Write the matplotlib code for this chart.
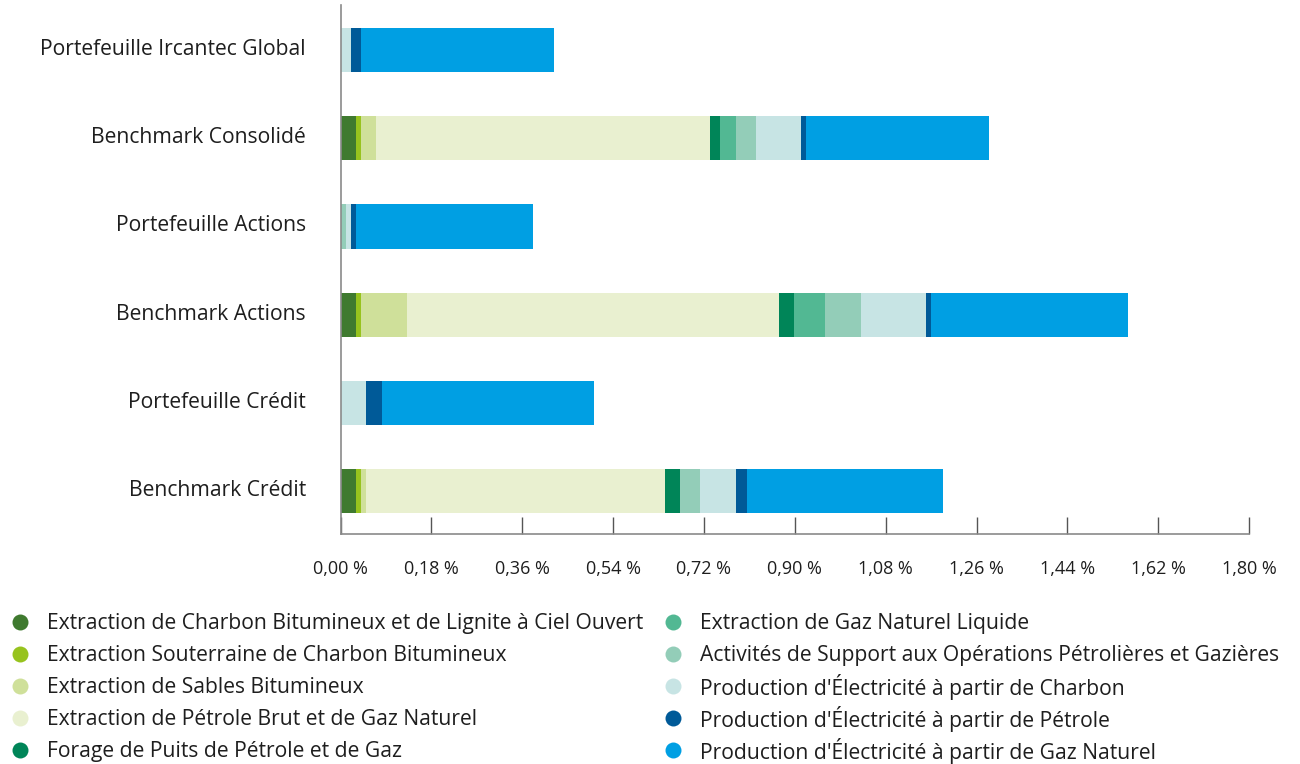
import numpy as np
import matplotlib.pyplot as plt
from matplotlib.ticker import FixedLocator, FuncFormatter
from matplotlib.transforms import ScaledTranslation

plt.rcParams['font.family'] = ['Open Sans', 'DejaVu Sans']

categories = [
    "Portefeuille Ircantec Global",
    "Benchmark Consolidé",
    "Portefeuille Actions",
    "Benchmark Actions",
    "Portefeuille Crédit",
    "Benchmark Crédit",
]

series_names = [
    "Extraction de Charbon Bitumineux et de Lignite à Ciel Ouvert",
    "Extraction Souterraine de Charbon Bitumineux",
    "Extraction de Sables Bitumineux",
    "Extraction de Pétrole Brut et de Gaz Naturel",
    "Forage de Puits de Pétrole et de Gaz",
    "Extraction de Gaz Naturel Liquide",
    "Activités de Support aux Opérations Pétrolières et Gazières",
    "Production d'Électricité à partir de Charbon",
    "Production d'Électricité à partir de Pétrole",
    "Production d'Électricité à partir de Gaz Naturel",
]

colors = [
    "#3F7A2F", "#97C31E", "#CFE09A", "#E9F0D0", "#008558",
    "#52B893", "#93CDB8", "#C7E4E4", "#005A98", "#009FE3",
]

# values in %, one list per sector, in the order of `categories`
charbon_ciel_ouvert = [0.000, 0.031, 0.000, 0.031, 0.000, 0.031]
charbon_souterrain  = [0.000, 0.010, 0.000, 0.010, 0.000, 0.010]
sables_bitumineux   = [0.000, 0.030, 0.000, 0.091, 0.000, 0.010]
petrole_brut_gaz    = [0.000, 0.661, 0.000, 0.737, 0.000, 0.592]
forage_puits        = [0.000, 0.020, 0.000, 0.030, 0.000, 0.030]
gaz_naturel_liquide = [0.000, 0.032, 0.000, 0.060, 0.000, 0.000]
support_petrolier   = [0.000, 0.040, 0.011, 0.072, 0.000, 0.040]
elec_charbon        = [0.021, 0.089, 0.010, 0.129, 0.051, 0.070]
elec_petrole        = [0.020, 0.010, 0.010, 0.010, 0.032, 0.022]
elec_gaz_naturel    = [0.381, 0.361, 0.351, 0.391, 0.419, 0.389]

values = [
    charbon_ciel_ouvert, charbon_souterrain, sables_bitumineux,
    petrole_brut_gaz, forage_puits, gaz_naturel_liquide,
    support_petrolier, elec_charbon, elec_petrole, elec_gaz_naturel,
]

x_ticks = [0.00, 0.18, 0.36, 0.54, 0.72, 0.90, 1.08, 1.26, 1.44, 1.62, 1.80]

fig = plt.figure(figsize=(13, 7.64), dpi=100)
ax = fig.add_axes([0.262, 0.301, 0.6988, 0.6924])

y = np.arange(len(categories))
left = np.zeros(len(categories))
for name, vals, col in zip(series_names, values, colors):
    vals = np.array(vals)
    ax.barh(y, vals, left=left, height=0.5, color=col, label=name,
            edgecolor='none')
    left += vals

ax.set_xlim(0, 1.8)
ax.set_ylim(5.487, -0.51)
ax.set_yticks(y)
ax.set_yticklabels(categories, fontsize=15.2, color="#1e1e1e")
ax.tick_params(axis='y', length=0, pad=25)
# nudge the category names up a touch so they sit on the bar centres
shift = ScaledTranslation(0, 3 / 100, fig.dpi_scale_trans)
for lbl in ax.get_yticklabels():
    lbl.set_transform(lbl.get_transform() + shift)

ax.xaxis.set_major_locator(FixedLocator(x_ticks))
ax.xaxis.set_major_formatter(
    FuncFormatter(lambda v, p: f"{v:.2f}".replace('.', ',') + " %"))
ax.tick_params(axis='x', direction='in', length=12, width=1,
               color="#555555", labelsize=13, labelcolor="#1e1e1e", pad=19)

for side in ['top', 'right']:
    ax.spines[side].set_visible(False)
for side in ['left', 'bottom']:
    ax.spines[side].set_color("#8a8a8a")
    ax.spines[side].set_linewidth(1.2)

# legend in two columns of five entries, laid out in pixel units
leg = fig.add_axes([0, 0, 1, 1])
leg.set_xlim(0, 1300)
leg.set_ylim(764, 0)
leg.axis('off')
for i, (name, col) in enumerate(zip(series_names, colors)):
    cx = [20, 673][i // 5]
    cy = 622 + 32 * (i % 5)
    leg.plot(cx, cy, marker='o', markersize=11.5, color=col,
             markeredgewidth=0, linestyle='none')
    leg.text(cx + 27, cy + 1.5, name, fontsize=15.2, color="#1e1e1e",
             va='center', ha='left')

fig.savefig("out.png", dpi=100)
